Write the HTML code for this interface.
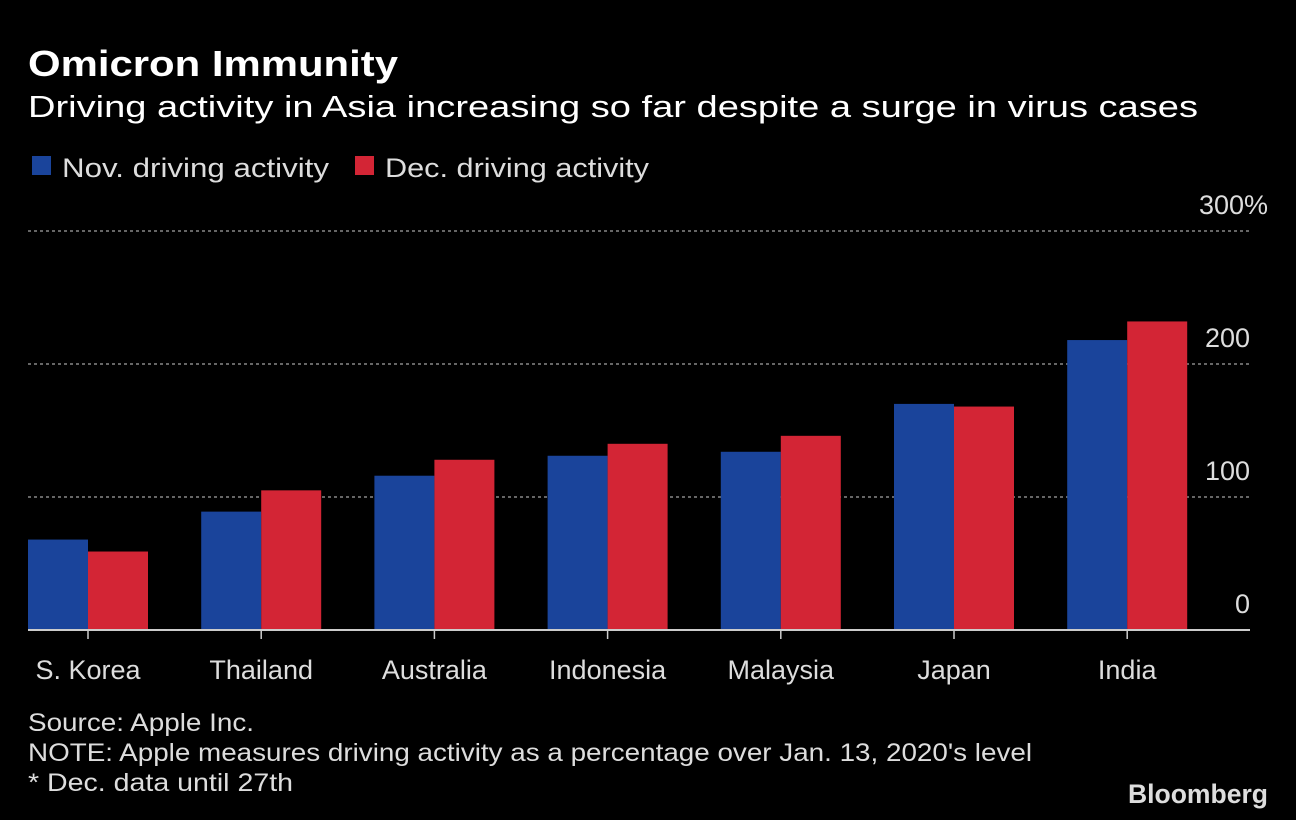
<!DOCTYPE html>
<html><head><meta charset="utf-8"><style>
html,body{margin:0;padding:0;background:#000;}
svg{display:block;font-family:"Liberation Sans",sans-serif;}
</style></head><body>
<svg id="chart" width="1296" height="820">
<text x="28" y="76" fill="#fff" font-size="36" font-weight="bold" textLength="370" lengthAdjust="spacingAndGlyphs">Omicron Immunity</text>
<text x="28" y="117" fill="#fff" font-size="31" textLength="1170" lengthAdjust="spacingAndGlyphs">Driving activity in Asia increasing so far despite a surge in virus cases</text>
<g>
<rect x="32" y="156" width="19" height="19" fill="#1a449b"/>
<text x="62" y="177" fill="#ddd" font-size="27" textLength="267" lengthAdjust="spacingAndGlyphs">Nov. driving activity</text>
<rect x="355" y="156" width="19" height="19" fill="#d32535"/>
<text x="385" y="177" fill="#ddd" font-size="27" textLength="264" lengthAdjust="spacingAndGlyphs">Dec. driving activity</text>
</g>
<g id="grid"></g><g id="bars"></g><g id="xaxis"></g>
<g fill="#ddd" font-size="25">
<text x="28" y="731" textLength="226" lengthAdjust="spacingAndGlyphs">Source: Apple Inc.</text>
<text x="28" y="761" textLength="1004" lengthAdjust="spacingAndGlyphs">NOTE: Apple measures driving activity as a percentage over Jan. 13, 2020's level</text>
<text x="28" y="791" textLength="265" lengthAdjust="spacingAndGlyphs">* Dec. data until 27th</text>
</g>
<text x="1268" y="803" text-anchor="end" fill="#ddd" font-size="27" font-weight="bold" textLength="140" lengthAdjust="spacingAndGlyphs">Bloomberg</text>
</svg>
<script>
const categories=["S. Korea","Thailand","Australia","Indonesia","Malaysia","Japan","India"];
const novValues=[68,89,116,131,134,170,218];
const decValues=[59,105,128,140,146,168,232];
const tickValues=[0,100,200,300];
const tickLabels=["0","100","200","300%"];
const NS="http://www.w3.org/2000/svg";
const y0=630,pxPer=1.33;
function yScale(v){return y0-v*pxPer;}
function xCenter(i){return 88+i*173.2;}
function mk(tag,attrs,parent,text){const e=document.createElementNS(NS,tag);for(const k in attrs)e.setAttribute(k,attrs[k]);if(text!==undefined)e.textContent=text;parent.appendChild(e);return e;}
const grid=document.getElementById('grid'),bars=document.getElementById('bars'),xa=document.getElementById('xaxis');
tickValues.forEach((t,i)=>{
  const y=yScale(t);
  if(t!==0){const l=mk('line',{x1:28,x2:1250,y1:y,y2:y,stroke:'#888','stroke-width':1.5,'stroke-dasharray':'3,3'},grid);
  
  }
  const tx=mk('text',{x:1250,y:y-17,'text-anchor':'end',fill:'#ddd','font-size':27},grid,tickLabels[i]);
  if(i===3)tx.setAttribute('x',1268);
  
  
});
categories.forEach((c,i)=>{
  const cx=xCenter(i);
  const b1=mk('rect',{x:cx-60,y:yScale(novValues[i]),width:60,height:novValues[i]*pxPer,fill:'#1a449b'},bars);
  
  
  const b2=mk('rect',{x:cx,y:yScale(decValues[i]),width:60,height:decValues[i]*pxPer,fill:'#d32535'},bars);
  
  
  const tk=mk('line',{x1:cx,x2:cx,y1:y0,y2:y0+9,stroke:'#ccc','stroke-width':1.5},xa);
  
  
  const lb=mk('text',{x:cx,y:679,'text-anchor':'middle',fill:'#ddd','font-size':27},xa,c);
  
  
});
const base=mk('line',{x1:28,x2:1250,y1:y0,y2:y0,stroke:'#ccc','stroke-width':2},xa);


</script>
</body></html>
